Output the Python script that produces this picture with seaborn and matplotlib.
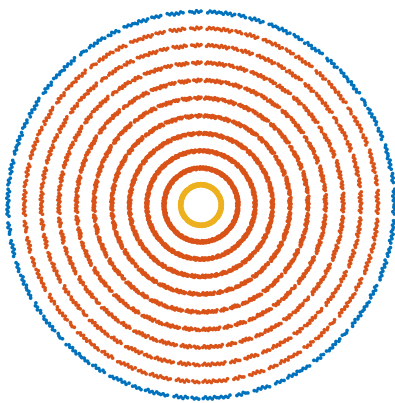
import numpy as np
import pandas as pd
import matplotlib
matplotlib.use("Agg")
import matplotlib.pyplot as plt
import seaborn as sns

# Ring radii for each group
inner_radii = [1.15]
middle_radii = [2.10, 3.08, 4.07, 5.07, 6.09, 7.09, 8.09, 9.09, 10.06]
outer_radii = [11.0]
group_names = ["inner", "middle", "outer"]
group_colors = ["#EDB120", "#D95319", "#0072BD"]

points_per_ring = 540
# small repeating radial offsets give each ring some thickness
radial_offsets = np.array([0.0, 0.06, -0.045, 0.025, -0.065, 0.045, -0.015,
                           0.07, -0.055, 0.01, 0.035, -0.03, 0.055])
# runs of (kept, skipped) samples along each ring: the same angular
# breaks appear on every ring, visible only where the ring is large
runs = [(8, 2), (5, 1), (12, 2), (6, 1), (9, 1), (4, 2), (14, 1), (7, 2),
        (10, 1), (5, 1), (11, 2), (7, 1), (4, 1), (13, 2), (6, 2)]

keep = []
while len(keep) < points_per_ring:
    for k, s in runs:
        keep += [True] * k + [False] * s
keep = np.array(keep[:points_per_ring])

idx = np.arange(points_per_ring)
angles = 2 * np.pi * idx / points_per_ring
offs = np.resize(radial_offsets, points_per_ring)
angles, offs = angles[keep], offs[keep]

rows = []
for name, radii in zip(group_names, [inner_radii, middle_radii, outer_radii]):
    for r in radii:
        rr = r + offs
        for x, y in zip(rr * np.cos(angles), rr * np.sin(angles)):
            rows.append((x, y, name))
df = pd.DataFrame(rows, columns=["x", "y", "group"])

sns.set_theme(style="white")
fig = plt.figure(figsize=(3.95, 4.03), dpi=100)
ax = fig.add_axes([0, 0, 1, 1])
sns.scatterplot(data=df, x="x", y="y", hue="group", hue_order=group_names,
                palette=group_colors, s=7, linewidth=0, legend=False, ax=ax)
ax.set_xlim(-11.45, 11.05)
ax.set_ylim(-11.28, 11.68)
ax.set_axis_off()
fig.savefig("out.png", dpi=100, facecolor="white")
